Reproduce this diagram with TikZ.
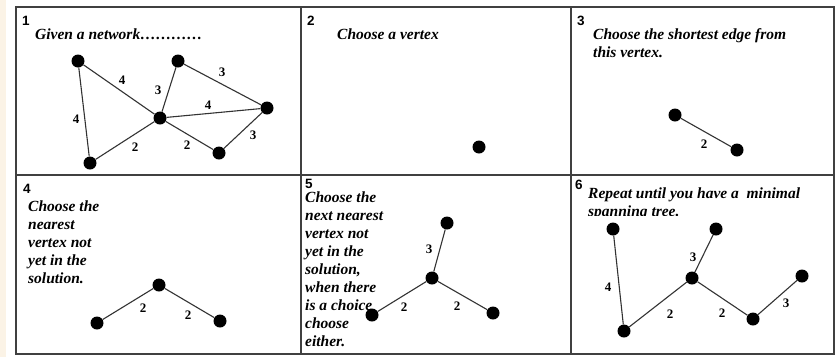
\documentclass[tikz,border=0pt]{standalone}
\usepackage{fontspec}
\setmainfont{Liberation Serif}
\newfontfamily\numfont{Liberation Sans}
\definecolor{cream}{RGB}{251,243,230}
\begin{document}
\begin{tikzpicture}[x=1pt,y=-1pt,
  vtx/.style={circle,fill=black,draw=none,minimum size=13pt,inner sep=0pt},
  edg/.style={draw=black!80,line width=1.1pt},
  wlab/.style={font=\fontsize{13}{13}\selectfont\bfseries,inner sep=0pt},
  num/.style={font=\numfont\fontsize{13.5}{13.5}\selectfont\bfseries,anchor=base west,inner sep=0pt},
  txt/.style={font=\fontsize{15.5}{18}\selectfont\bfseries\itshape,anchor=base west,inner sep=0pt},
  grid/.style={draw=black!75,line width=1.3pt}]
\useasboundingbox (0,0) rectangle (836,357);
\fill[white] (0,0) rectangle (836,357);
\fill[cream] (0,0) rectangle (6,357);
% table
\draw[grid] (16,7) rectangle (834,354);
\draw[grid] (16,175) -- (834,175);
\draw[grid] (301,7) -- (301,354);
\draw[grid] (571,7) -- (571,354);
% numbers
\node[num] (n1) at (22,25) {1};
\node[num] (n2) at (307,25) {2};
\node[num] (n3) at (577,25) {3};
\node[num] (n4) at (23,193) {4};
\node[num] (n5) at (305,188) {5};
\node[num] (n6) at (575,189) {6};
% texts
\node[txt] (t1) at (35,39) {Given a network…………};
\node[txt] (t2) at (337,39) {Choose a vertex};
\node[txt] (t3a) at (593,39) {Choose the shortest edge from};
\node[txt] (t3b) at (593,57) {this vertex.};
\node[txt] (t4a) at (28,211.5) {Choose the};
\node[txt] (t4b) at (28,229.6) {nearest};
\node[txt] (t4c) at (28,247.7) {vertex not};
\node[txt] (t4d) at (28,265.8) {yet in the};
\node[txt] (t4e) at (28,283.9) {solution.};
\node[txt] (t5a) at (305,202) {Choose the};
\node[txt] (t5b) at (305,220.1) {next nearest};
\node[txt] (t5c) at (305,238.2) {vertex not};
\node[txt] (t5d) at (305,256.3) {yet in the};
\node[txt] (t5e) at (305,274.4) {solution,};
\node[txt] (t5f) at (305,292.5) {when there};
\node[txt] (t5g) at (305,310.6) {is a choice};
\node[txt] (t5h) at (305,328.7) {choose};
\node[txt] (t5i) at (305,346.8) {either.};
\node[txt] (t6a) at (588,198) {Repeat until you have a \ minimal};
\begin{scope}
\clip (575,200) rectangle (834,215.6);
\node[txt] (t6b) at (588,216) {spanning tree.};
\end{scope}
% panel 1
\node[vtx] (a1) at (78,61) {};
\node[vtx] (b1) at (178,61) {};
\node[vtx] (c1) at (160,118) {};
\node[vtx] (d1) at (267,108) {};
\node[vtx] (e1) at (90,163) {};
\node[vtx] (f1) at (219,153) {};
\draw[edg] (a1) -- (e1);
\draw[edg] (a1) -- (c1);
\draw[edg] (b1) -- (c1);
\draw[edg] (b1) -- (d1);
\draw[edg] (c1) -- (d1);
\draw[edg] (c1) -- (e1);
\draw[edg] (c1) -- (f1);
\draw[edg] (f1) -- (d1);
\node[wlab] (l1a) at (122,80) {4};
\node[wlab] (l1b) at (158,90) {3};
\node[wlab] (l1c) at (222,72) {3};
\node[wlab] (l1d) at (208,105) {4};
\node[wlab] (l1e) at (76,119) {4};
\node[wlab] (l1f) at (135,147) {2};
\node[wlab] (l1g) at (187,145) {2};
\node[wlab] (l1h) at (253,135) {3};
% panel 2
\node[vtx] (a2) at (479,147) {};
% panel 3
\node[vtx] (a3) at (675,115) {};
\node[vtx] (b3) at (737,150) {};
\draw[edg] (a3) -- (b3);
\node[wlab] (l3a) at (704,144) {2};
% panel 4
\node[vtx] (a4) at (159,285) {};
\node[vtx] (b4) at (97,323) {};
\node[vtx] (c4) at (220,321) {};
\draw[edg] (a4) -- (b4);
\draw[edg] (a4) -- (c4);
\node[wlab] (l4a) at (143,308) {2};
\node[wlab] (l4b) at (188,315) {2};
% panel 5
\node[vtx] (a5) at (447,223) {};
\node[vtx] (b5) at (432,278) {};
\node[vtx] (c5) at (372,315) {};
\node[vtx] (d5) at (493,313) {};
\draw[edg] (a5) -- (b5);
\draw[edg] (b5) -- (c5);
\draw[edg] (b5) -- (d5);
\node[wlab] (l5a) at (429,249) {3};
\node[wlab] (l5b) at (404,307) {2};
\node[wlab] (l5c) at (457,306) {2};
% panel 6
\node[vtx] (a6) at (613,229) {};
\node[vtx] (b6) at (716,229) {};
\node[vtx] (c6) at (692,278) {};
\node[vtx] (d6) at (802,276) {};
\node[vtx] (e6) at (753,319) {};
\node[vtx] (f6) at (624,331) {};
\draw[edg] (a6) -- (f6);
\draw[edg] (f6) -- (c6);
\draw[edg] (c6) -- (b6);
\draw[edg] (c6) -- (e6);
\draw[edg] (e6) -- (d6);
\node[wlab] (l6a) at (608,287) {4};
\node[wlab] (l6b) at (693,257) {3};
\node[wlab] (l6c) at (670,314) {2};
\node[wlab] (l6d) at (722,313) {2};
\node[wlab] (l6e) at (786,303) {3};
\end{tikzpicture}
\end{document}
